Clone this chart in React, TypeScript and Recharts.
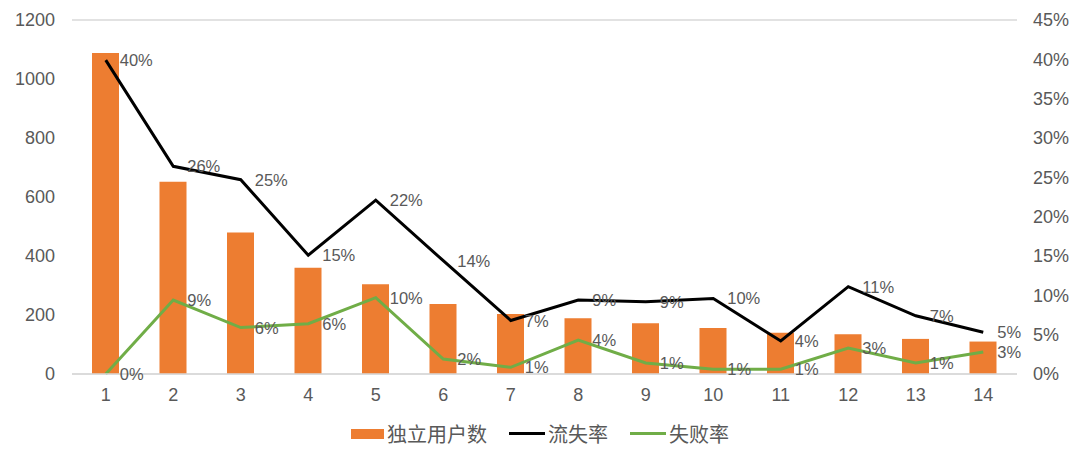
import React from "react";
import { ComposedChart, Bar, Line, XAxis, YAxis, CartesianGrid, Legend, LabelList } from "recharts";

const categories = ["1", "2", "3", "4", "5", "6", "7", "8", "9", "10", "11", "12", "13", "14"];
const users = [1088, 652, 480, 360, 304, 237, 203, 189, 172, 156, 140, 135, 119, 110];
const churnRate = [0.399, 0.264, 0.247, 0.151, 0.221, 0.144, 0.068, 0.094, 0.092, 0.096, 0.042, 0.111, 0.074, 0.053];
const failRate = [0.0, 0.094, 0.059, 0.064, 0.097, 0.019, 0.0085, 0.043, 0.014, 0.006, 0.006, 0.033, 0.014, 0.028];
const leftTicks = [0, 200, 400, 600, 800, 1000, 1200];
const rightTicks = [0, 0.05, 0.1, 0.15, 0.2, 0.25, 0.3, 0.35, 0.4, 0.45];

const data = categories.map((c, i) => ({
  x: c,
  users: users[i],
  churn: churnRate[i],
  fail: failRate[i],
}));

const FONT = "'Liberation Sans', Arial, sans-serif";
const TEXT = "#595959";

const pct = (v: number) => `${Math.round(v * 100)}%`;

const PointLabel = (props: any) => {
  const { x, y, value } = props;
  return (
    <text
      x={x + 14}
      y={y}
      dominantBaseline="central"
      textAnchor="start"
      fontSize={16.5}
      fontFamily={FONT}
      fill={TEXT}
    >
      {pct(value)}
    </text>
  );
};

const LegendContent = () => {
  const item = (swatch: React.ReactNode, label: string) => (
    <div style={{ display: "flex", alignItems: "center", margin: "0 11px" }}>
      {swatch}
      <span style={{ marginLeft: 3, color: TEXT, fontSize: 20, fontFamily: "'Noto Sans CJK SC', sans-serif" }}>{label}</span>
    </div>
  );
  return (
    <div style={{ display: "flex", justifyContent: "center", width: 1080 }}>
      {item(<div style={{ width: 33, height: 10, background: "#ED7D31" }} />, "独立用户数")}
      {item(<div style={{ width: 36, height: 3, background: "#000000" }} />, "流失率")}
      {item(<div style={{ width: 36, height: 3, background: "#70AD47" }} />, "失败率")}
    </div>
  );
};

export default function App() {
  return (
    <div style={{ width: 1080, height: 463, background: "#fff" }}>
      <style>{"body{margin:0;}"}</style>
      <ComposedChart
        width={1080}
        height={463}
        data={data}
        margin={{ top: 20, right: 0, bottom: 59, left: 0 }}
      >
        <CartesianGrid vertical={false} stroke="#d9d9d9" strokeWidth={1.5} />
        <XAxis
          dataKey="x"
          axisLine={{ stroke: "#d9d9d9", strokeWidth: 1.5 }}
          tickLine={false}
          tickMargin={8}
          height={30}
          tick={{ fontSize: 18, fill: TEXT, fontFamily: FONT }}
        />
        <YAxis
          yAxisId="left"
          width={72}
          domain={[0, 1200]}
          ticks={leftTicks}
          axisLine={false}
          tickLine={false}
          tickMargin={11}
          tick={{ fontSize: 18, fill: TEXT, fontFamily: FONT }}
        />
        <YAxis
          yAxisId="right"
          orientation="right"
          width={63}
          domain={[0, 0.45]}
          ticks={rightTicks}
          tickFormatter={pct}
          axisLine={false}
          tickLine={false}
          tickMargin={10}
          tick={{ fontSize: 18, fill: TEXT, fontFamily: FONT }}
        />
        <Legend
          layout="horizontal"
          verticalAlign="middle"
          align="center"
          wrapperStyle={{ top: 419, left: 0, width: 1080 }}
          content={<LegendContent />}
        />
        <Bar yAxisId="left" dataKey="users" name="独立用户数" fill="#ED7D31" barSize={27} isAnimationActive={false} />
        <Line
          yAxisId="right"
          type="linear"
          dataKey="churn"
          name="流失率"
          stroke="#000000"
          strokeWidth={3}
          dot={false}
          isAnimationActive={false}
        >
          <LabelList dataKey="churn" content={<PointLabel />} />
        </Line>
        <Line
          yAxisId="right"
          type="linear"
          dataKey="fail"
          name="失败率"
          stroke="#70AD47"
          strokeWidth={3}
          dot={false}
          isAnimationActive={false}
        >
          <LabelList dataKey="fail" content={<PointLabel />} />
        </Line>
      </ComposedChart>
    </div>
  );
}
